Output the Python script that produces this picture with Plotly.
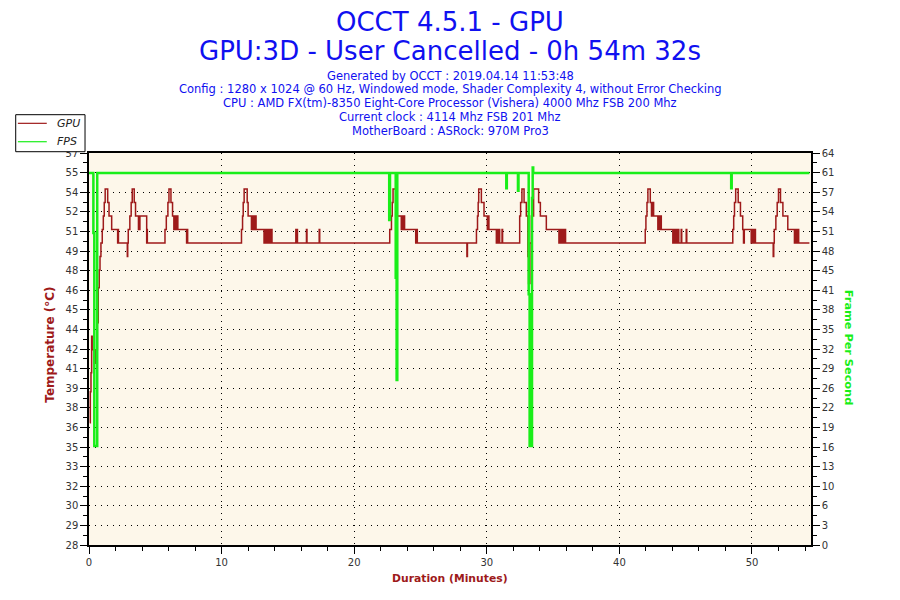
import plotly.graph_objects as go

# GPU temperature (deg C) over time (minutes)
gpu_time = [0.06, 0.10, 0.15, 0.20, 0.24, 0.40, 0.50, 0.63, 0.70, 0.77, 0.83, 0.90, 1.00, 1.08, 1.15, 1.22,
            1.41, 1.51, 1.71, 2.16, 2.19, 2.22, 2.89, 2.92, 2.96, 3.08, 3.18, 3.26, 3.41, 3.51, 3.73, 3.76,
            3.80, 3.84, 4.35, 4.38, 4.40,
            5.73, 5.83, 5.95, 6.03, 6.18, 6.30, 6.40, 6.44, 6.50, 6.55, 6.61, 6.66, 6.70, 7.36, 7.40, 7.44, 7.48,
            11.50, 11.58, 11.63, 11.70, 11.93, 12.00, 12.25, 12.30, 12.36, 12.42, 12.48, 12.55, 12.60, 12.70,
            13.20, 13.28, 13.36, 13.42, 13.50, 13.56, 13.64, 13.72, 13.80,
            15.60, 15.64, 15.68, 15.72, 16.40, 16.44, 17.36, 17.40,
            22.68, 22.81, 22.87, 22.93, 23.13, 23.25, 23.55, 23.60, 23.66, 23.72, 23.80, 24.64, 24.70, 24.76, 24.82,
            28.50, 28.54,
            29.22, 29.30, 29.35, 29.39, 29.59, 29.79, 30.04, 30.10, 30.16, 30.22, 30.72, 30.78, 30.84, 30.90, 30.97,
            31.15, 31.19,
            32.48, 32.55, 32.65, 32.81, 32.98, 33.10, 33.15, 33.25, 33.36, 33.53, 33.91, 34.04, 34.49,
            35.44, 35.52, 35.60, 35.68, 35.76, 35.86, 35.94, 36.00,
            41.95, 42.00, 42.08, 42.15, 42.33, 42.42, 42.48, 42.58, 42.90, 42.96, 43.04, 43.10, 43.16,
            44.03, 44.10, 44.18, 44.26, 44.34, 44.42, 44.48, 44.66, 44.70, 45.04, 45.08,
            48.55, 48.62, 48.68, 48.77, 48.96, 49.13, 49.30, 49.36, 49.42, 49.49, 49.94, 50.02, 50.10, 50.18,
            50.26, 50.30, 51.60, 51.64, 51.68, 51.80, 51.90, 52.00, 52.15, 52.33, 52.70,
            53.20, 53.28, 53.36, 53.44, 53.52, 53.60, 54.33]
gpu_temp = [36.7, 39.0, 40.4, 43.1, 42.1, 41.1, 42.1, 44.1, 46.7, 48.0, 49.0, 50, 51, 52, 53, 54,
            53, 52, 51, 50, 51, 50, 49, 50, 51, 52, 53, 54, 53, 52, 51, 52,
            51, 52, 50, 51, 50,
            51, 52, 53, 54, 53, 52, 51, 52, 51, 52, 51, 52, 51, 50, 51, 50, 50,
            51, 52, 53, 54, 53, 52, 51, 52, 51, 52, 51, 52, 51, 51,
            50, 51, 50, 51, 50, 51, 50, 51, 50,
            51, 50, 51, 50, 51, 50, 51, 50,
            51, 52, 53, 54, 53, 52, 51, 52, 51, 52, 51, 50, 51, 50, 50,
            49, 50,
            51, 52, 53, 54, 53, 52, 51, 52, 51, 51, 50, 51, 50, 51, 50,
            51, 50,
            52, 53, 54, 53, 52, 49, 47, 50, 52, 54, 53, 52, 51,
            50, 51, 50, 51, 50, 51, 50, 50,
            51, 52, 53, 54, 53, 52, 53, 52, 51, 52, 51, 52, 51,
            50, 51, 50, 51, 50, 51, 50, 51, 50, 51, 50,
            51, 52, 53, 54, 53, 52, 51, 50, 51, 51, 50, 51, 50, 51,
            50, 50, 49, 50, 51, 52, 53, 54, 53, 52, 51,
            50, 51, 50, 51, 50, 50, 50]

# Frames per second over time (minutes)
fps_time = [0.0, 0.33, 0.40, 0.62, 22.64, 22.70, 23.13, 23.20, 23.25, 31.47, 31.51, 32.35, 32.39,
            33.16, 33.23, 33.41, 33.46, 33.50, 48.43, 48.47, 54.33]
fps_value = [60.3, 50.5, 15.7, 60.3, 52.6, 60.3, 43.2, 26.5, 60.3, 57.8, 60.3, 57.4, 60.3,
             40.5, 15.7, 56.2, 61.2, 60.3, 57.8, 60.3, 60.3]

# axis tick labels as printed on the chart
temp_labels = ["28", "29", "30", "32", "33", "35", "36", "38", "39", "41", "42",
               "44", "45", "46", "48", "49", "51", "52", "54", "55", "57"]
fps_labels = ["0", "3", "6", "10", "13", "16", "19", "22", "26", "29", "32",
              "35", "38", "41", "45", "48", "51", "54", "57", "61", "64"]

info_lines = ["Generated by OCCT : 2019.04.14 11:53:48",
              "Config : 1280 x 1024 @ 60 Hz, Windowed mode, Shader Complexity 4, without Error Checking",
              "CPU : AMD FX(tm)-8350 Eight-Core Processor (Vishera) 4000 Mhz FSB 200 Mhz",
              "Current clock : 4114 Mhz FSB 201 Mhz",
              "MotherBoard : ASRock: 970M Pro3"]

GPU_COLOR = "#9E1A1A"
FPS_COLOR = "#19EE19"
BLUE = "#1010F0"

temp_lo, temp_step = 27.66, 1.45
fps_lo, fps_step = -0.45, 3.2

fig = go.Figure()
fig.add_trace(go.Scatter(x=gpu_time, y=gpu_temp, name="GPU", mode="lines", line_shape="hv",
                         line=dict(color=GPU_COLOR, width=1.5)))
fig.add_trace(go.Scatter(x=fps_time, y=fps_value, name="FPS", mode="lines", line_shape="hv",
                         line=dict(color=FPS_COLOR, width=2.5), yaxis="y2"))

tick_font = dict(family="DejaVu Sans", size=10, color="#333333")

fig.update_layout(
    width=900, height=600,
    margin=dict(l=89, r=89, t=153, b=55),
    paper_bgcolor="white", plot_bgcolor="#FDF7EA",
    showlegend=False,
    xaxis=dict(range=[0, 54.45], dtick=10, tick0=0, showline=True, linecolor="black", linewidth=1.5,
               mirror=True, ticks="outside", ticklen=7, tickcolor="black", tickfont=tick_font,
               showgrid=True, gridcolor="black", gridwidth=1, griddash="1px,5px", zeroline=False,
               minor=dict(dtick=2, tick0=0, ticks="outside", ticklen=4, tickcolor="black", showgrid=False)),
    yaxis=dict(range=[temp_lo, temp_lo + 20 * temp_step], tickmode="array",
               tickvals=[temp_lo + i * temp_step for i in range(21)], ticktext=temp_labels,
               showline=True, linecolor="black", linewidth=1.5, ticks="outside", ticklen=7,
               tickcolor="black", tickfont=tick_font, showgrid=True, gridcolor="black", gridwidth=1,
               griddash="1px,5px", zeroline=False,
               minor=dict(tick0=temp_lo, dtick=temp_step / 2, ticks="outside", ticklen=4,
                          tickcolor="black", showgrid=False)),
    yaxis2=dict(range=[fps_lo, fps_lo + 20 * fps_step], overlaying="y", side="right", tickmode="array",
                tickvals=[fps_lo + i * fps_step for i in range(21)], ticktext=fps_labels,
                showline=True, linecolor="black", linewidth=1.5, ticks="outside", ticklen=7,
                tickcolor="black", tickfont=tick_font, showgrid=False, zeroline=False,
                minor=dict(tick0=fps_lo, dtick=fps_step / 2, ticks="outside", ticklen=4,
                           tickcolor="black", showgrid=False)),
)

# legend box in the top-left corner, drawn by hand to match the original's compact box
fig.add_shape(type="rect", xref="paper", yref="paper", x0=-0.1015, x1=-0.0055, y0=1.0033, y1=1.0977,
              line=dict(color="black", width=1), fillcolor="white", layer="above")
for name, color, ly in [("GPU", GPU_COLOR, 1.0757), ("FPS", FPS_COLOR, 1.0288)]:
    fig.add_shape(type="line", xref="paper", yref="paper", x0=-0.0985, x1=-0.0585, y0=ly, y1=ly,
                  line=dict(color=color, width=1.2), layer="above")
    fig.add_annotation(text="<i>%s</i>" % name, x=-0.0465, y=ly, xref="paper", yref="paper",
                       xanchor="left", yanchor="middle", showarrow=False,
                       font=dict(family="DejaVu Sans", size=11, color="#222222"))

title_font = dict(family="DejaVu Sans", size=26, color=BLUE)
fig.add_annotation(text="OCCT 4.5.1 - GPU", x=0.5, y=1.335, xref="paper", yref="paper",
                   xanchor="center", yanchor="middle", showarrow=False, font=title_font)
fig.add_annotation(text="GPU:3D - User Cancelled - 0h 54m 32s", x=0.5, y=1.260, xref="paper",
                   yref="paper", xanchor="center", yanchor="middle", showarrow=False, font=title_font)
for i, line in enumerate(info_lines):
    fig.add_annotation(text=line, x=0.5, y=1.1972 - i * 0.0352, xref="paper", yref="paper",
                       xanchor="center", yanchor="middle", showarrow=False,
                       font=dict(family="DejaVu Sans", size=11.5, color=BLUE))

fig.add_annotation(text="<b>Temperature (°C)</b>", x=-0.054, y=0.511, xref="paper", yref="paper",
                   xanchor="center", yanchor="middle", textangle=-90, showarrow=False,
                   font=dict(family="DejaVu Sans", size=12, color=GPU_COLOR))
fig.add_annotation(text="<b>Frame Per Second</b>", x=1.0512, y=0.503, xref="paper", yref="paper",
                   xanchor="center", yanchor="middle", textangle=90, showarrow=False,
                   font=dict(family="DejaVu Sans", size=11.3, color=FPS_COLOR))
fig.add_annotation(text="<b>Duration (Minutes)</b>", x=0.5, y=-0.086, xref="paper", yref="paper",
                   xanchor="center", yanchor="middle", showarrow=False,
                   font=dict(family="DejaVu Sans", size=10.8, color=GPU_COLOR))

# page body has a default 8px margin; drop it so the figure sits at the window's corner
fig.write_html("out.html", config={"displayModeBar": False},
               post_script="document.body.style.margin = '0';")
